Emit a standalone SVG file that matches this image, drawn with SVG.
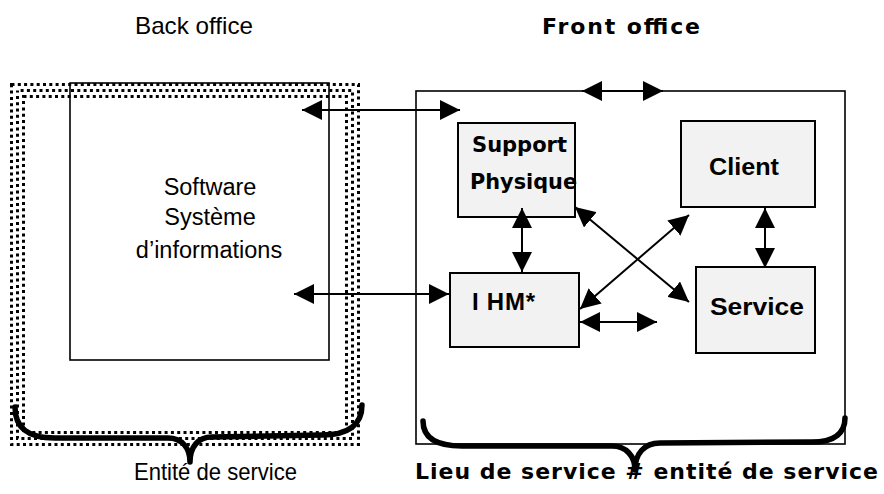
<svg xmlns="http://www.w3.org/2000/svg" width="884" height="494" viewBox="0 0 884 494">
<style>
.band{fill:none;stroke:#000;stroke-width:3;stroke-dasharray:3 3.3}
.frame{fill:none;stroke:#000;stroke-width:1.6}
.node{fill:#f2f2f2;stroke:#000;stroke-width:2}
.conn{stroke:#000;stroke-width:2;fill:none;marker-start:url(#ah);marker-end:url(#ah)}
.brace{fill:none;stroke:#000;stroke-width:5.5;stroke-linecap:round;stroke-linejoin:round}
.reg{font-family:"Liberation Sans",Arial,sans-serif;font-size:24px;fill:#000}
.lbl{font-family:"Liberation Sans",Arial,sans-serif;font-size:23.5px;fill:#000;text-anchor:middle}
.bd{font-family:"DejaVu Sans",Verdana,sans-serif;font-weight:bold;font-size:21px;fill:#000}
.hd{font-family:"DejaVu Sans",Verdana,sans-serif;font-weight:bold;font-size:22px;fill:#000}
.bn{font-family:"Liberation Sans",Arial,sans-serif;font-weight:bold;font-size:24px;fill:#000}
</style>
<defs>
<marker id="ah" viewBox="0 0 20 20" refX="20" refY="10" markerWidth="20" markerHeight="20" markerUnits="userSpaceOnUse" orient="auto-start-reverse">
<path d="M0,0 L20,10 L0,20 z" fill="#000"/>
</marker>
</defs>
<rect width="884" height="494" fill="#fff"/>
<g id="back-office-zone">
<rect class="band" x="11.5" y="84.5" width="347" height="360"/>
<rect class="band" x="17.5" y="90.5" width="335" height="348" stroke-dashoffset="3.2"/>
<rect class="band" x="23.5" y="96.5" width="323" height="336"/>
</g>
<g id="software">
<rect class="frame" x="70" y="83" width="259" height="277"/>
<text class="lbl" x="210" y="195">Software</text>
<text class="lbl" x="210" y="225">Système</text>
<text class="lbl" x="209" y="258">d’informations</text>
</g>
<g id="front-office">
<rect class="frame" x="416" y="91" width="429" height="353"/>
</g>
<g id="support">
<rect class="node" x="458" y="123" width="117" height="94"/>
<text class="bd" x="472" y="152" textLength="95" lengthAdjust="spacingAndGlyphs">Support</text>
<text class="bd" x="470" y="189" textLength="107" lengthAdjust="spacingAndGlyphs">Physique</text>
</g>
<g id="client">
<rect class="node" x="681" y="121" width="134" height="86"/>
<text class="bn" x="709" y="175" textLength="70" lengthAdjust="spacingAndGlyphs">Client</text>
</g>
<g id="ihm">
<rect class="node" x="450" y="273" width="129" height="74"/>
<text class="bn" x="472" y="310" textLength="63" lengthAdjust="spacing">I HM*</text>
</g>
<g id="service">
<rect class="node" x="696" y="267" width="119" height="86"/>
<text class="bn" x="710" y="315" textLength="94" lengthAdjust="spacingAndGlyphs">Service</text>
</g>
<g id="connectors">
<line class="conn" x1="302" y1="110" x2="460" y2="110"/>
<line class="conn" x1="582" y1="91" x2="663" y2="91"/>
<line class="conn" x1="294" y1="294" x2="449" y2="294"/>
<line class="conn" x1="522" y1="208" x2="522" y2="272"/>
<line class="conn" x1="765" y1="208" x2="765" y2="268"/>
<line class="conn" x1="575" y1="207" x2="689" y2="302"/>
<line class="conn" x1="580" y1="309" x2="689" y2="215"/>
<line class="conn" x1="580" y1="322" x2="657" y2="322"/>
</g>
<g id="braces">
<path class="brace" d="M15,407 C15,428 28,438 55,438 L168,438 C182,438 190,448 190,462 C190,447 198,437 212,437 L322,435 C348,435 362,425 362,405"/>
<path class="brace" d="M423,421 C423,438 436,446 462,446 L612,446 C626,446 635,456 635,470 C635,454 644,443 660,443 L812,442 C836,442 845,432 845,418"/>
</g>
<g id="labels">
<text class="reg" x="135" y="34" textLength="118" lengthAdjust="spacingAndGlyphs">Back office</text>
<text class="hd" x="542" y="34" textLength="158" lengthAdjust="spacing">Front office</text>
<text class="reg" x="134" y="480" textLength="163" lengthAdjust="spacingAndGlyphs">Entité de service</text>
<text class="hd" x="415" y="479" textLength="463" lengthAdjust="spacing">Lieu de service # entité de service</text>
</g>
</svg>
